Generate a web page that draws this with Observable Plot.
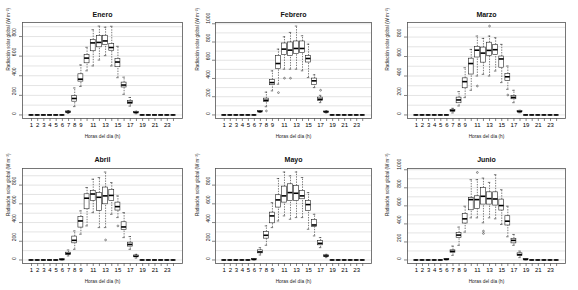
<!DOCTYPE html>
<html><head><meta charset="utf-8">
<script src="https://cdn.jsdelivr.net/npm/d3@7"></script>
<script src="https://cdn.jsdelivr.net/npm/@observablehq/plot@0.6"></script>
<style>
body{margin:0;background:#fff;}
#wrap{position:relative;width:578px;height:290px;overflow:hidden;background:#fff;}
#wrap svg{position:absolute;}
</style></head><body><div id="wrap"></div>
<script>
const hours = [1,2,3,4,5,6,7,8,9,10,11,12,13,14,15,16,17,18,19,20,21,22,23,24];
const xLabels = [1,2,3,4,5,6,7,8,9,11,13,15,17,19,21,23];
const months = ["Enero","Febrero","Marzo","Abril","Mayo","Junio"];
const xTitle = "Horas del día (h)";
const yTitle = "Radiación solar global (W m⁻²)";

const ticks800 = [0,200,400,600,800];
const ticks1000 = [0,200,400,600,800,1000];
const grid900 = [0,100,200,300,400,500,600,700,800,900];
const grid1000 = [0,100,200,300,400,500,600,700,800,900,1000];

// Enero
const eneroLo  = [0,0,0,0,0,0,15,85,290,450,500,560,605,500,380,210,90,12,0,0,0,0,0,0];
const eneroQ1  = [0,0,0,0,0,0,24,135,340,527,650,690,712,655,487,280,112,20,0,0,0,0,0,0];
const eneroMed = [0,0,0,0,0,0,30,168,365,580,735,740,755,688,540,305,128,25,0,0,0,0,0,0];
const eneroQ3  = [0,0,0,0,0,0,36,192,415,612,765,805,808,722,570,330,143,30,0,0,0,0,0,0];
const eneroHi  = [0,0,0,0,0,0,45,275,510,690,870,907,895,905,700,385,178,38,0,0,0,0,0,0];
const eneroOutH = [], eneroOutV = [];
// Febrero
const febreroLo  = [0,0,0,0,0,0,28,90,264,337,502,502,502,484,410,300,135,22,0,0,0,0,0,0];
const febreroQ1  = [0,0,0,0,0,0,33,143,326,502,656,648,667,678,575,330,154,28,0,0,0,0,0,0];
const febreroMed = [0,0,0,0,0,0,37,161,355,564,722,711,729,729,619,374,172,33,0,0,0,0,0,0];
const febreroQ3  = [0,0,0,0,0,0,42,179,385,648,784,795,806,806,648,399,190,38,0,0,0,0,0,0];
const febreroHi  = [0,0,0,0,0,0,48,250,483,722,857,905,975,868,776,440,215,45,0,0,0,0,0,0];
const febreroOutH = [8,10,11,12,17], febreroOutV = [44,245,403,403,271];
// Marzo
const marzoLo  = [0,0,0,0,0,0,20,92,178,253,400,417,400,451,332,263,126,22,0,0,0,0,0,0];
const marzoQ1  = [0,0,0,0,0,0,35,120,274,415,590,537,605,615,485,349,161,28,0,0,0,0,0,0];
const marzoMed = [0,0,0,0,0,0,45,154,342,528,665,635,663,670,575,392,180,34,0,0,0,0,0,0];
const marzoQ3  = [0,0,0,0,0,0,52,178,376,578,700,692,742,720,600,420,195,40,0,0,0,0,0,0];
const marzoHi  = [0,0,0,0,0,0,68,239,485,673,810,786,810,793,725,502,253,48,0,0,0,0,0,0];
const marzoOutH = [11,13,16], marzoOutV = [297,913,205];
// Abril
const abrilLo  = [0,0,0,0,0,0,43,114,275,364,506,346,346,488,453,239,114,20,0,0,0,0,0,0];
const abrilQ1  = [0,0,0,0,0,2,55,178,346,542,632,524,595,632,528,322,143,30,0,0,0,0,0,0];
const abrilMed = [0,0,0,0,0,5,68,210,417,660,705,670,685,690,570,353,166,39,0,0,0,0,0,0];
const abrilQ3  = [0,0,0,0,0,8,78,250,460,702,738,716,774,750,613,403,185,48,0,0,0,0,0,0];
const abrilHi  = [0,0,0,0,0,12,107,310,524,774,863,881,940,827,684,506,250,60,0,0,0,0,0,0];
const abrilOutH = [13,15], abrilOutV = [214,364];
// Mayo
const mayoLo  = [0,0,0,0,0,0,53,157,346,417,471,435,453,453,328,257,132,25,0,0,0,0,0,0];
const mayoQ1  = [0,0,0,0,0,3,71,228,392,560,613,631,631,649,524,353,157,35,0,0,0,0,0,0];
const mayoMed = [0,0,0,0,0,6,86,264,471,642,685,720,713,685,592,374,178,43,0,0,0,0,0,0];
const mayoQ3  = [0,0,0,0,0,9,103,300,506,692,784,809,791,738,631,428,203,50,0,0,0,0,0,0];
const mayoHi  = [0,0,0,0,0,12,132,364,613,870,940,898,940,881,720,488,239,60,0,0,0,0,0,0];
const mayoOutH = [], mayoOutV = [];
// Junio
const junioLo  = [0,0,0,0,0,0,51,162,309,467,467,412,467,456,393,257,162,26,0,0,0,0,0,0];
const junioQ1  = [0,0,0,0,0,3,81,246,404,551,566,614,614,603,548,382,184,44,3,0,0,0,0,0];
const junioMed = [0,0,0,0,0,7,96,276,456,669,669,706,680,676,603,430,217,59,6,0,0,0,0,0];
const junioQ3  = [0,0,0,0,0,10,107,301,511,688,706,798,750,750,669,485,235,74,9,0,0,0,0,0];
const junioHi  = [0,0,0,0,0,14,154,364,596,890,890,908,860,945,779,596,283,99,12,0,0,0,0,0];
const junioOutH = [11,12,12], junioOutV = [970,320,294];

const yMax = [907,975,913,940,940,975];

const series = [
  [eneroLo,eneroQ1,eneroMed,eneroQ3,eneroHi,eneroOutH,eneroOutV,ticks800,grid900],
  [febreroLo,febreroQ1,febreroMed,febreroQ3,febreroHi,febreroOutH,febreroOutV,ticks1000,grid1000],
  [marzoLo,marzoQ1,marzoMed,marzoQ3,marzoHi,marzoOutH,marzoOutV,ticks800,grid900],
  [abrilLo,abrilQ1,abrilMed,abrilQ3,abrilHi,abrilOutH,abrilOutV,ticks800,grid900],
  [mayoLo,mayoQ1,mayoMed,mayoQ3,mayoHi,mayoOutH,mayoOutV,ticks800,grid900],
  [junioLo,junioQ1,junioMed,junioQ3,junioHi,junioOutH,junioOutV,ticks1000,grid1000]
];

// layout
const colLeft = [0,190,380], colW = [190,190,198], colML = [22,25,27], colMR = [8,9,13];
const colTickOff = [-8,-7.5,-8.5], colTitleOff = [-14,-18,-20];
const rowTop = [0,145], rowMT = [22,23], rowMB = [27,27], rowTitleDy = [-10,-11];
const font = "'Liberation Sans', Arial, Helvetica, sans-serif";

const wrap = document.getElementById("wrap");
months.forEach((m, i) => {
  const c = i % 3, r = Math.floor(i / 3);
  const [lo,q1,med,q3,hi,outH,outV,yt,grid] = series[i];
  const stats = hours.map((h, k) => ({h, lo: lo[k], q1: q1[k], med: med[k], q3: q3[k], hi: hi[k]}));
  const outs = outH.map((h, k) => ({h, v: outV[k]}));
  const M = yMax[i];
  const svg = Plot.plot({
    width: colW[c], height: 145,
    marginLeft: colML[c], marginRight: colMR[c], marginTop: rowMT[r], marginBottom: rowMB[r],
    style: {fontFamily: font, fontSize: "6px", background: "white", overflow: "visible"},
    x: {domain: [-0.46, 25.46], axis: null},
    y: {domain: [-0.04 * M, 1.04 * M], axis: null},
    marks: [
      Plot.ruleY(grid, {stroke: "#d2d2d2", strokeWidth: 0.6}),
      Plot.axisX({ticks: hours, tickSize: 3, tickPadding: 1.5, tickFormat: d => xLabels.includes(d) ? String(d) : "", label: null, stroke: "#333", strokeWidth: 0.6}),
      Plot.axisY({ticks: yt, tickSize: 3, tickFormat: () => "", label: null, stroke: "#333", strokeWidth: 0.6}),
      Plot.text(yt, {y: d => d, frameAnchor: "left", dx: colTickOff[c], rotate: -90, text: d => String(d), fontSize: 5, fill: "#222"}),
      Plot.text([yTitle], {frameAnchor: "left", dx: colTitleOff[c], rotate: -90, fontSize: 4.6, fill: "#222"}),
      Plot.text([xTitle], {frameAnchor: "bottom", dy: 19, fontSize: 4.8, fill: "#222"}),
      Plot.text([m], {frameAnchor: "top", dy: rowTitleDy[r], fontSize: 7, fontWeight: "bold", fill: "#111"}),
      Plot.ruleX(stats, {x: "h", y1: "q3", y2: "hi", stroke: "#222", strokeWidth: 0.6, strokeDasharray: "1.4,1.2"}),
      Plot.ruleX(stats, {x: "h", y1: "lo", y2: "q1", stroke: "#222", strokeWidth: 0.6, strokeDasharray: "1.4,1.2"}),
      Plot.ruleY(stats, {y: "hi", x1: d => d.h - 0.2, x2: d => d.h + 0.2, stroke: "#222", strokeWidth: 0.6}),
      Plot.ruleY(stats, {y: "lo", x1: d => d.h - 0.2, x2: d => d.h + 0.2, stroke: "#222", strokeWidth: 0.6}),
      Plot.rect(stats, {x1: d => d.h - 0.4, x2: d => d.h + 0.4, y1: "q1", y2: "q3", fill: "white", stroke: "#222", strokeWidth: 0.6}),
      Plot.ruleY(stats, {y: "med", x1: d => d.h - 0.4, x2: d => d.h + 0.4, stroke: "#000", strokeWidth: 1.6}),
      Plot.dot(outs, {x: "h", y: "v", r: 0.9, stroke: "#222", strokeWidth: 0.5, fill: "none"}),
      Plot.frame({stroke: "#555", strokeWidth: 0.8})
    ]
  });
  svg.style.left = colLeft[c] + "px";
  svg.style.top = rowTop[r] + "px";
  wrap.appendChild(svg);
});
</script></body></html>
